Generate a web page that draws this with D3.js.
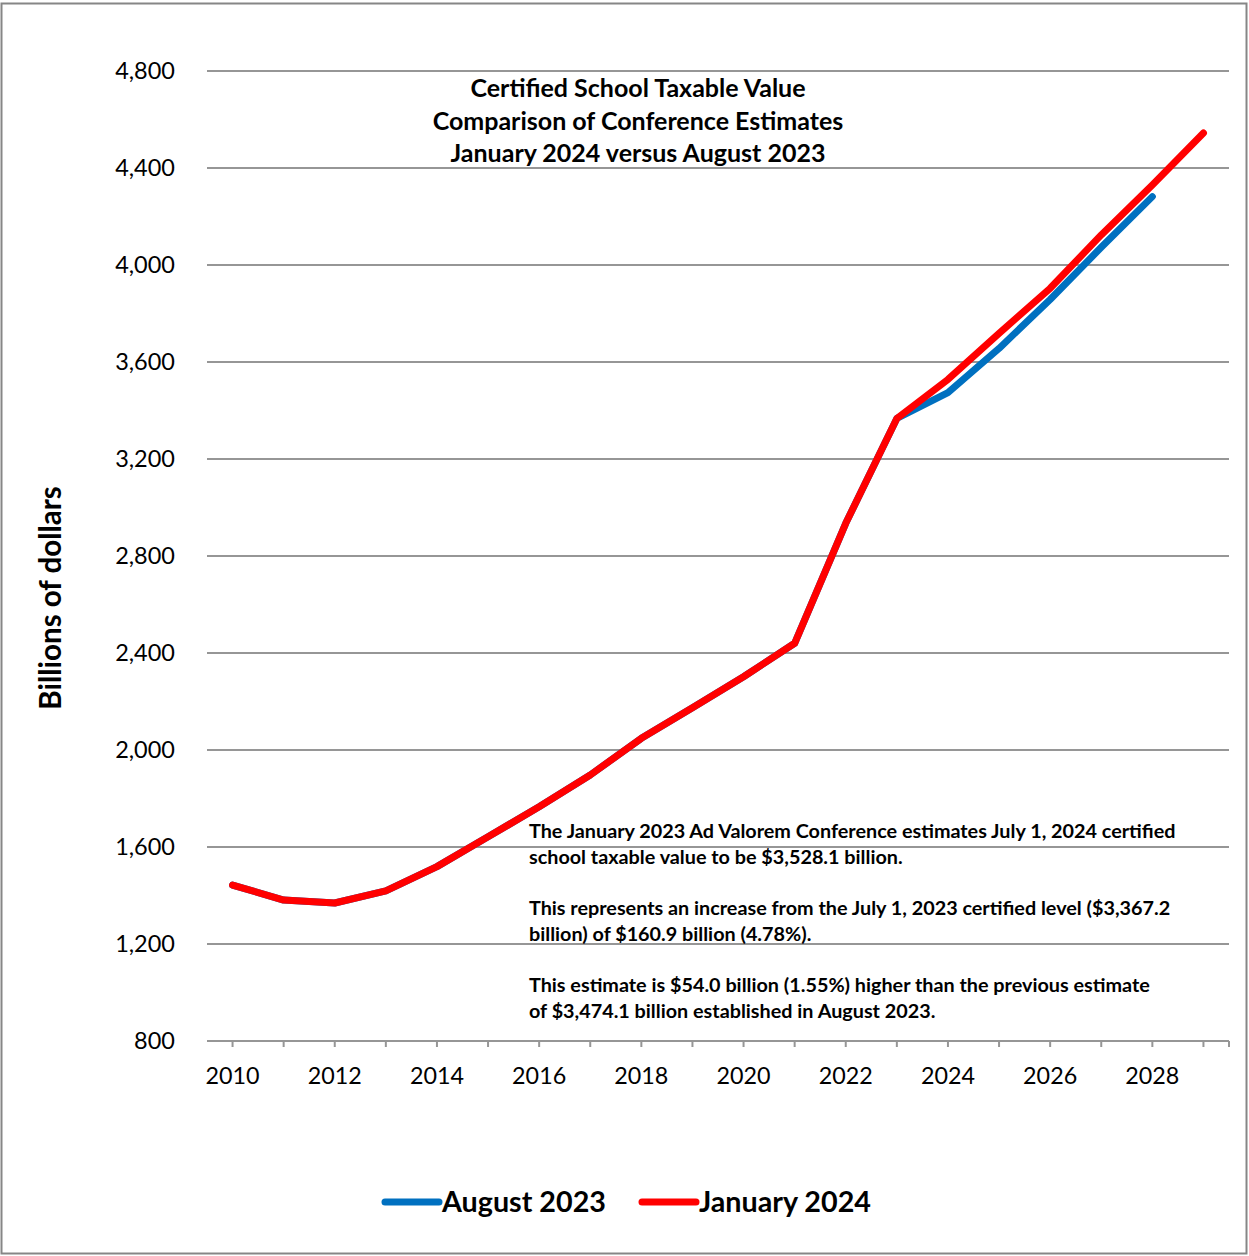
<!DOCTYPE html>
<html>
<head>
<meta charset="utf-8">
<script src="https://cdn.jsdelivr.net/npm/d3@7"></script>
<style>
  body { margin: 0; background: #fff; }
  svg { font-family: Lato, "Open Sans", sans-serif; }
</style>
</head>
<body>
<svg id="chart" width="1249" height="1256"></svg>
<script>
// data
const years = d3.range(2010, 2030);
const august2023 = [1443, 1381, 1369, 1419, 1519, 1642, 1766, 1897, 2048, 2174,
  2302, 2440, 2935, 3367.2, 3474.1, 3656, 3858, 4073, 4282, null];
const january2024 = [1443, 1381, 1369, 1419, 1519, 1642, 1766, 1897, 2048, 2174,
  2302, 2440, 2935, 3367.2, 3528.1, 3718, 3904, 4124, 4330, 4544];
const yTicks = [800, 1200, 1600, 2000, 2400, 2800, 3200, 3600, 4000, 4400, 4800];
const xLabels = [2010, 2012, 2014, 2016, 2018, 2020, 2022, 2024, 2026, 2028];

const titleLines = [
  'Certified School Taxable Value',
  'Comparison of Conference Estimates',
  'January 2024 versus August 2023'
];
const noteParas = [
  ['The January 2023 Ad Valorem Conference estimates July 1, 2024 certified',
   'school taxable value to be $3,528.1 billion.'],
  ['This represents an increase from the July 1, 2023 certified level ($3,367.2',
   'billion) of $160.9 billion (4.78%).'],
  ['This estimate is $54.0 billion (1.55%) higher than the previous estimate',
   'of $3,474.1 billion established in August 2023.']
];

const series = [
  { name: 'August 2023', values: august2023, color: '#0070C0' },
  { name: 'January 2024', values: january2024, color: '#FF0000' }
];

const svg = d3.select('#chart');

// outer frame
svg.append('rect')
  .attr('x', 1.5).attr('y', 3.5)
  .attr('width', 1245).attr('height', 1250)
  .attr('fill', 'none').attr('stroke', '#868686').attr('stroke-width', 2);

const plotLeft = 207, plotRight = 1229, plotTop = 71, plotBottom = 1041;

const x = d3.scalePoint().domain(years).range([plotLeft, plotRight]).padding(0.5);
const y = d3.scaleLinear().domain([800, 4800]).range([plotBottom, plotTop]);

// gridlines
svg.append('g')
  .selectAll('line')
  .data(yTicks.slice(1))
  .join('line')
  .attr('x1', plotLeft).attr('x2', plotRight)
  .attr('y1', d => y(d)).attr('y2', d => y(d))
  .attr('stroke', '#969696').attr('stroke-width', 2);

// y axis labels
svg.append('g')
  .selectAll('text')
  .data(yTicks)
  .join('text')
  .attr('x', 175)
  .attr('y', d => y(d))
  .attr('dy', '0.35em')
  .attr('text-anchor', 'end')
  .style('font-size', '23.5px')
  .style('fill', '#000')
  .text(d => d3.format(',')(d));

// x axis
const xAxis = svg.append('g').attr('transform', `translate(0,${plotBottom})`);
xAxis.append('line')
  .attr('x1', plotLeft).attr('x2', plotRight)
  .attr('stroke', '#969696').attr('stroke-width', 2);
xAxis.selectAll('line.tick')
  .data(years.map(d => x(d)).concat([plotRight]))
  .join('line')
  .attr('class', 'tick')
  .attr('x1', d => d).attr('x2', d => d)
  .attr('y1', 0).attr('y2', 6)
  .attr('stroke', '#969696').attr('stroke-width', 2);
xAxis.selectAll('text')
  .data(xLabels)
  .join('text')
  .attr('x', d => x(d))
  .attr('y', 43)
  .attr('text-anchor', 'middle')
  .style('font-size', '23.3px')
  .text(d => d);

// y axis title
svg.append('text')
  .attr('transform', 'translate(61,598) rotate(-90)')
  .attr('text-anchor', 'middle')
  .style('font-size', '29.5px')
  .style('font-weight', '700')
  .text('Billions of dollars');

// lines
const line = d3.line()
  .defined(d => d.v != null)
  .x(d => x(d.year))
  .y(d => y(d.v));

svg.append('g')
  .selectAll('path')
  .data(series)
  .join('path')
  .attr('d', s => line(s.values.map((v, i) => ({ year: years[i], v }))))
  .attr('fill', 'none')
  .attr('stroke', s => s.color)
  .attr('stroke-width', 7)
  .attr('stroke-linejoin', 'round')
  .attr('stroke-linecap', 'round');

// title
svg.append('g')
  .selectAll('text')
  .data(titleLines)
  .join('text')
  .attr('x', 638)
  .attr('y', (d, i) => 97 + i * 32.5)
  .attr('text-anchor', 'middle')
  .style('font-size', '25px')
  .style('font-weight', '700')
  .text(d => d);

// annotation
const note = svg.append('g');
noteParas.forEach((para, p) => {
  para.forEach((t, i) => {
    note.append('text')
      .attr('x', 529)
      .attr('y', 838 + p * 77 + i * 26)
      .style('font-size', '19.8px')
      .style('font-weight', '700')
      .text(t);
  });
});

// legend
const legend = svg.append('g');
const legendX = [385, 642];
series.forEach((s, i) => {
  legend.append('line')
    .attr('x1', legendX[i]).attr('x2', legendX[i] + 54)
    .attr('y1', 1202).attr('y2', 1202)
    .attr('stroke', s.color).attr('stroke-width', 7)
    .attr('stroke-linecap', 'round');
  legend.append('text')
    .attr('x', legendX[i] + 57)
    .attr('y', 1212)
    .style('font-size', '28.7px')
    .style('font-weight', '700')
    .text(s.name);
});
</script>
</body>
</html>
